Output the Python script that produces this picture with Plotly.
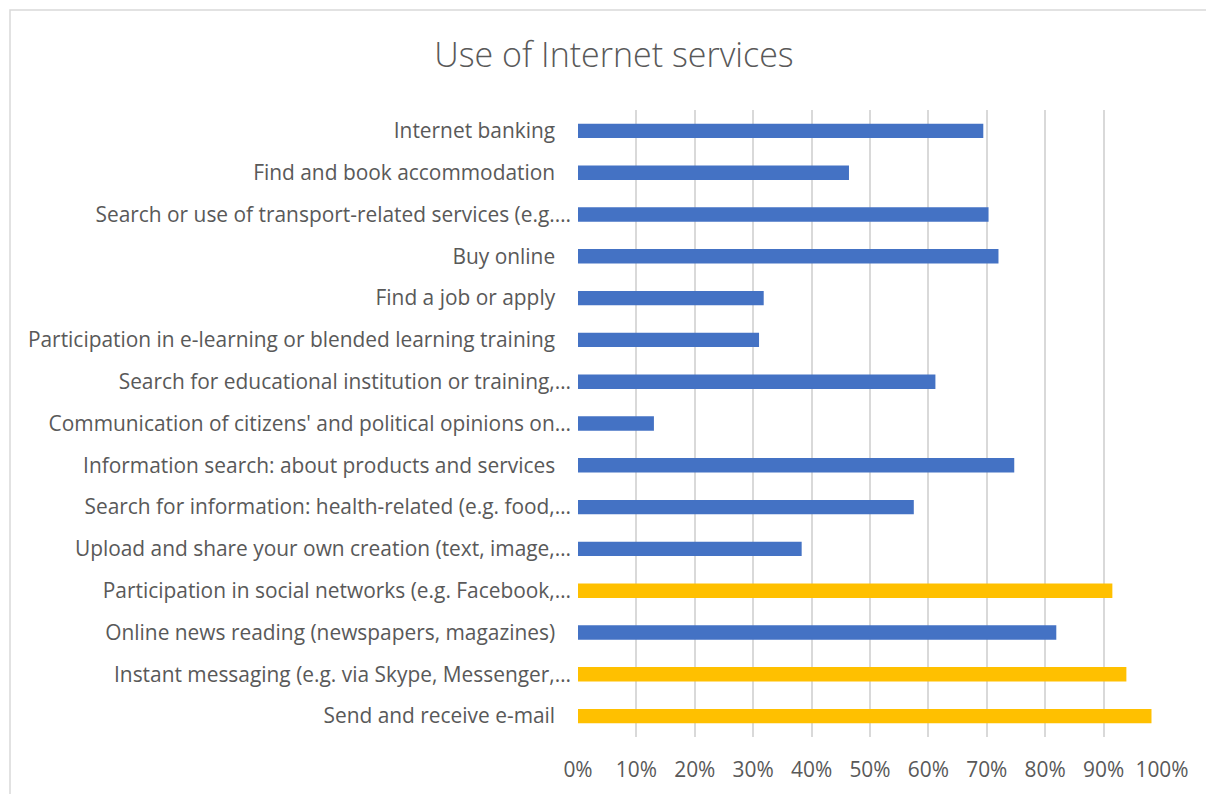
import plotly.graph_objects as go

# Share of users per Internet service (%), listed top to bottom
services = [
    "Internet banking",
    "Find and book accommodation",
    "Search or use of transport-related services (e.g.…",
    "Buy online",
    "Find a job or apply",
    "Participation in e-learning or blended learning training",
    "Search for educational institution or training,…",
    "Communication of citizens' and political opinions on…",
    "Information search: about products and services",
    "Search for information: health-related (e.g. food,…",
    "Upload and share your own creation (text, image,…",
    "Participation in social networks (e.g. Facebook,…",
    "Online news reading (newspapers, magazines)",
    "Instant messaging (e.g. via Skype, Messenger,…",
    "Send and receive e-mail",
]
share_pct = [69.4, 46.4, 70.3, 72.0, 31.8, 31.0, 61.2, 13.0, 74.7, 57.5, 38.3, 91.5, 81.9, 93.9, 98.2]
highlighted = [
    "Participation in social networks (e.g. Facebook,…",
    "Instant messaging (e.g. via Skype, Messenger,…",
    "Send and receive e-mail",
]
x_ticks = [0, 10, 20, 30, 40, 50, 60, 70, 80, 90, 100]
x_tick_labels = ["0%", "10%", "20%", "30%", "40%", "50%", "60%", "70%", "80%", "90%", "100%"]

BLUE = "#4472C4"
GOLD = "#FFC000"
TEXT = "#595959"
GRID = "#D9D9D9"
FONT = "'Open Sans', Lato, sans-serif"
LABEL_SIZE = 20.9

bar_colors = [GOLD if s in highlighted else BLUE for s in services]
# full labels carry a little trailing room, truncated ones run up to the axis
tick_text = [s if s.endswith("…") else s + "\u2002\u00a0" for s in services]

fig = go.Figure(
    go.Bar(
        x=share_pct,
        y=services,
        orientation="h",
        marker=dict(color=bar_colors, line=dict(width=0)),
        hovertemplate="%{y}: %{x:.1f}%<extra></extra>",
    )
)

W, H = 1206, 794
L, R, T, B = 578, 44, 110, 57
plot_w = W - L - R
plot_h = H - T - B

fig.update_layout(
    width=W,
    height=H,
    margin=dict(l=L, r=R, t=T, b=B, autoexpand=False),
    paper_bgcolor="white",
    plot_bgcolor="white",
    showlegend=False,
    bargap=0.656,
    font=dict(family=FONT, color=TEXT, size=LABEL_SIZE),
    title=dict(
        text="Use of Internet services",
        font=dict(family=FONT, size=34, color=TEXT, weight=300),
        x=614 / W,
        xref="container",
        xanchor="center",
        y=1 - 55 / H,
        yref="container",
        yanchor="middle",
    ),
    xaxis=dict(
        range=[0, 100],
        tickvals=x_ticks,
        ticktext=x_tick_labels,
        showgrid=True,
        gridcolor=GRID,
        gridwidth=1.5,
        zeroline=False,
        showline=False,
        ticks="",
        ticklabelstandoff=18,
        tickfont=dict(size=LABEL_SIZE, color=TEXT),
        fixedrange=True,
    ),
    yaxis=dict(
        categoryorder="array",
        categoryarray=services,
        tickvals=services,
        ticktext=tick_text,
        autorange="reversed",
        showgrid=False,
        zeroline=False,
        showline=False,
        ticks="",
        ticklabelstandoff=6,
        tickfont=dict(size=LABEL_SIZE, color=TEXT),
        fixedrange=True,
    ),
    shapes=[
        # chart-area frame, running off the right and bottom edges
        dict(
            type="rect",
            xref="paper",
            yref="paper",
            x0=(10 - L) / plot_w,
            x1=(W + 40 - L) / plot_w,
            y0=-(B + 40) / plot_h,
            y1=(H - 10 - B) / plot_h,
            line=dict(color=GRID, width=1.5),
            fillcolor="rgba(0,0,0,0)",
            layer="below",
        )
    ],
)

fig.write_html("out.html")
